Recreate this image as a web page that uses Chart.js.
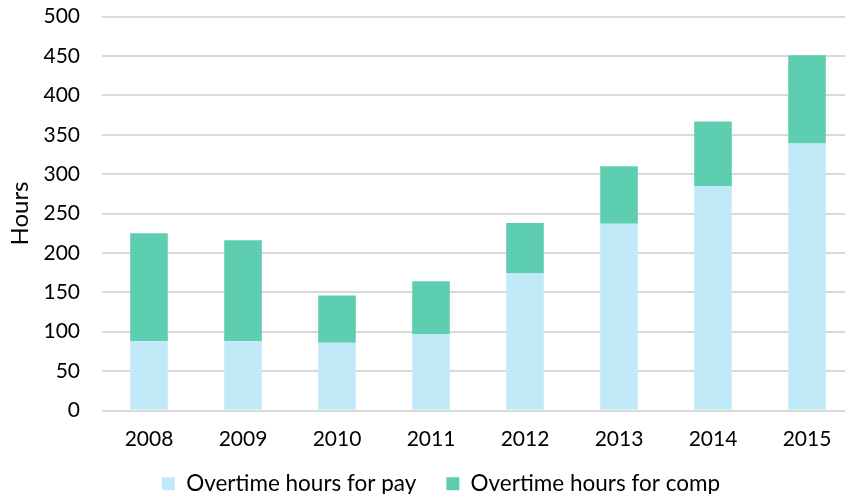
<!DOCTYPE html>
<html>
<head>
<meta charset="utf-8">
<script src="https://cdn.jsdelivr.net/npm/chart.js@4/dist/chart.umd.min.js"></script>
<style>
  html, body { margin: 0; padding: 0; background: #fff; overflow: hidden; }
  /* canvas is a bit larger than the window; the extra is clipped */
  #clip { width: 845px; height: 494px; overflow: hidden; }
  #wrap { position: relative; width: 860px; height: 517px; }
</style>
</head>
<body>
<div id="clip"><div id="wrap"><canvas id="chart"></canvas></div></div>
<script>
const years = ['2008', '2009', '2010', '2011', '2012', '2013', '2014', '2015'];
const payHours = [88, 88, 86, 97, 174, 237, 285, 339];
const compHours = [137, 128, 60, 67, 64, 73, 82, 112];
const yTicks = [0, 50, 100, 150, 200, 250, 300, 350, 400, 450, 500];

const FONT = 'Lato, "Open Sans", sans-serif';
const INK = '#000000';
const PAY = '#c1eaf9';
const COMP = '#5dcfb0';

// nudge legend to sit where the original one does
const legendShift = {
  id: 'legendShift',
  afterLayout(chart) {
    const lg = chart.legend;
    if (lg) { lg.left += 14; lg.right += 14; lg.top -= 12; lg.bottom -= 12; }
  },
};

new Chart(document.getElementById('chart'), {
  type: 'bar',
  data: {
    labels: years,
    datasets: [
      { label: 'Overtime hours for pay', data: payHours, backgroundColor: PAY,
        categoryPercentage: 1, barPercentage: 0.4 },
      { label: 'Overtime hours for comp', data: compHours, backgroundColor: COMP,
        categoryPercentage: 1, barPercentage: 0.4 },
    ],
  },
  options: {
    responsive: true,
    maintainAspectRatio: false,
    animation: false,
    layout: { padding: { top: 0, right: 6, bottom: 0, left: 0 } },
    plugins: {
      legend: {
        position: 'bottom',
        labels: {
          color: INK, font: { family: FONT, size: 22.5 },
          boxWidth: 13, boxHeight: 13, padding: 30,
        },
      },
      tooltip: { enabled: false },
    },
    scales: {
      x: {
        stacked: true,
        afterFit(scale) { scale.height = 44; },
        grid: { display: false, drawTicks: false },
        border: { display: false },
        ticks: { color: INK, font: { family: FONT, size: 21 }, padding: 16 },
      },
      y: {
        stacked: true,
        min: 0, max: 500,
        afterFit(scale) { scale.width = 102; },
        afterBuildTicks(scale) { scale.ticks = yTicks.map(v => ({ value: v })); },
        grid: { color: '#d9d9d9', lineWidth: 2, tickLength: 18, tickColor: 'rgba(0,0,0,0)' },
        border: { display: false },
        ticks: { color: INK, font: { family: FONT, size: 21 }, padding: 4 },
        title: {
          display: true, text: 'Hours', color: INK,
          font: { family: FONT, size: 24 }, padding: { top: 6, bottom: 0 },
        },
      },
    },
  },
  plugins: [legendShift],
});
</script>
</body>
</html>
